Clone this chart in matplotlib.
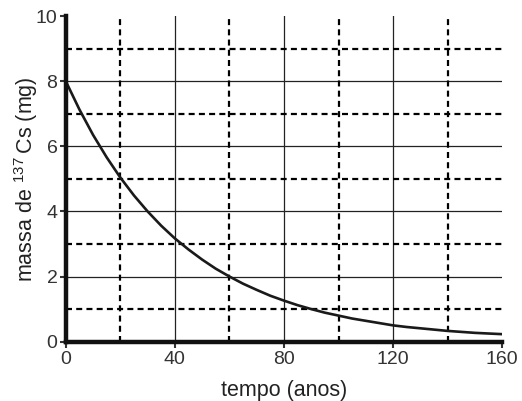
import matplotlib.pyplot as plt

plt.rcParams['font.family'] = ['Liberation Sans', 'DejaVu Sans']
plt.rcParams['mathtext.fontset'] = 'custom'
plt.rcParams['mathtext.rm'] = 'Liberation Sans'

# massa de 137Cs (mg)
tempo = [0, 5, 10, 15, 20, 25, 30, 35, 40, 45, 50, 55, 60, 65, 70, 75, 80,
         85, 90, 95, 100, 105, 110, 115, 120, 125, 130, 135, 140, 145, 150, 155, 160]
massa = [8.0, 7.13, 6.35, 5.66, 5.04, 4.49, 4.0, 3.56, 3.17, 2.83, 2.52, 2.24, 2.0,
         1.78, 1.59, 1.41, 1.26, 1.12, 1.0, 0.89, 0.80, 0.71, 0.64, 0.57, 0.50,
         0.45, 0.41, 0.37, 0.33, 0.30, 0.27, 0.25, 0.23]

x_major = [0, 40, 80, 120, 160]
y_major = [0, 2, 4, 6, 8, 10]
x_solid = [40, 80, 120]
x_dash = [20, 60, 100, 140]
y_solid = [2, 4, 6, 8]
y_dash = [1, 3, 5, 7, 9]

fig = plt.figure(figsize=(5.22, 4.01), dpi=100)
ax = fig.add_axes([0.126, 0.148, 0.836, 0.812])

for v in x_solid:
    ax.axvline(v, color='#222222', lw=0.9, zorder=1)
for v in y_solid:
    ax.axhline(v, color='#222222', lw=0.9, zorder=1)
for v in x_dash:
    ax.axvline(v, color='black', lw=1.6, ls=(0, (2.7, 1.9)), zorder=1)
for v in y_dash:
    ax.axhline(v, color='black', lw=1.6, ls=(0, (2.7, 1.9)), zorder=1)

ax.plot(tempo, massa, color='#1a1a1a', lw=1.9, zorder=3)

ax.set_xlim(0, 160)
ax.set_ylim(0, 10)
ax.set_xticks(x_major)
ax.set_yticks(y_major)
ax.tick_params(labelsize=14, colors='#333333', length=4, width=1.5, pad=3)
ax.tick_params(axis='y', pad=2)
for s in ['top', 'right']:
    ax.spines[s].set_visible(False)
for s in ['left', 'bottom']:
    ax.spines[s].set_linewidth(3.2)
    ax.spines[s].set_color('#111111')
    ax.spines[s].set_zorder(4)

ax.set_xlabel('tempo (anos)', fontsize=15.5, color='#222222')
ax.set_ylabel('massa de $^{137}\\,$Cs (mg)', fontsize=15.5, color='#222222')
ax.xaxis.set_label_coords(0.5, -0.118)
ax.yaxis.set_label_coords(-0.06, 0.5)

fig.savefig('out.png', dpi=100)
